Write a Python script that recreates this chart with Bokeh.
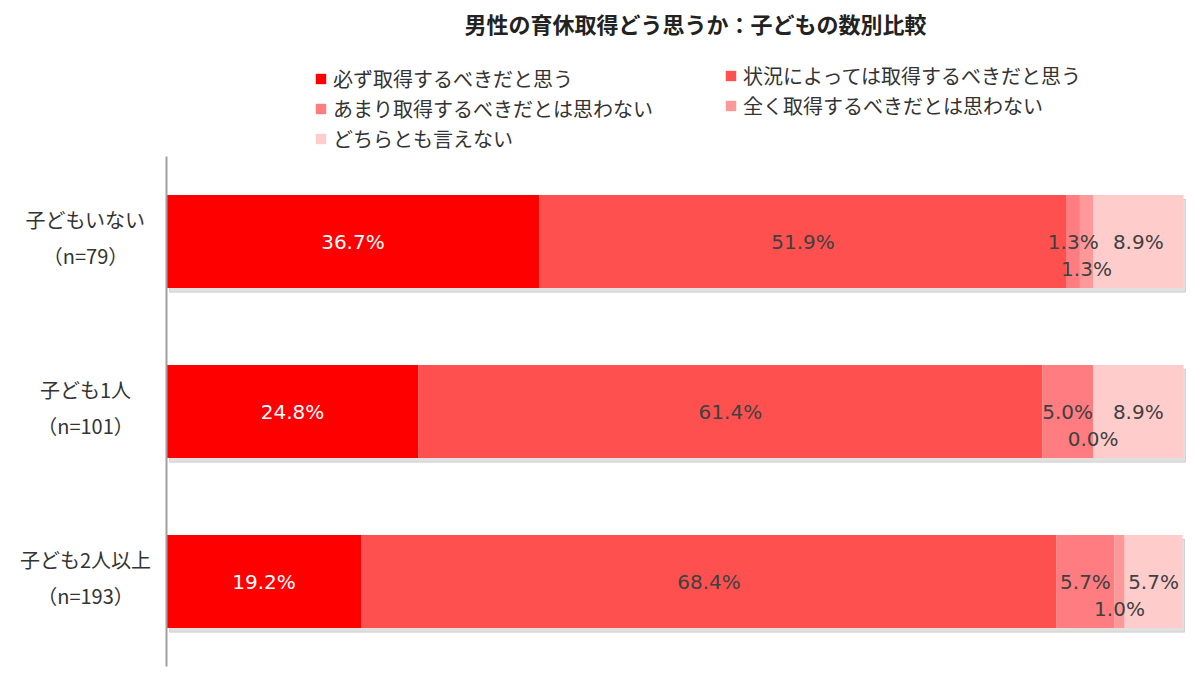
import numpy as np
from bokeh.plotting import figure
from bokeh.models import Range1d, Legend, LegendItem, ColumnDataSource
from bokeh.core.properties import value
from bokeh.embed import file_html
from bokeh.resources import INLINE

title = "男性の育休取得どう思うか：子どもの数別比較"
categories = ["子どもいない", "子ども1人", "子ども2人以上"]
sample_sizes = ["（n=79）", "（n=101）", "（n=193）"]
series_names = [
    "必ず取得するべきだと思う",
    "状況によっては取得するべきだと思う",
    "あまり取得するべきだとは思わない",
    "全く取得するべきだとは思わない",
    "どちらとも言えない",
]
must = [36.7, 24.8, 19.2]
depends = [51.9, 61.4, 68.4]
rather_not = [1.3, 5.0, 5.7]
not_at_all = [1.3, 0.0, 1.0]
undecided = [8.9, 8.9, 5.7]

colors = ["#FF0000", "#FF5050", "#FF7C80", "#FF9999", "#FFCCCC"]
label_colors = ["#FFFFFF", "#404040", "#404040", "#404040", "#404040"]
FONT = "Noto Sans CJK JP"
NUM_FONT = "DejaVu Sans"

series = [must, depends, rather_not, not_at_all, undecided]
n = len(categories)
idx = np.arange(n)

W, Hpx = 1200, 683
X0, XS = 166.0, 10.16      # pixel of 0 %, pixels per 1 %
Y0, YS = 241.0, 170.0      # pixel of first category centre, pixels per category


def xv(px):
    return (px - X0) / XS


def yv(py):
    return (py - Y0) / YS


p = figure(width=W, height=Hpx, output_backend="svg", toolbar_location=None,
           x_range=Range1d(xv(0), xv(W)), y_range=Range1d(yv(Hpx), yv(0)),
           min_border_left=0, min_border_right=0, min_border_top=0, min_border_bottom=0,
           title_location=None)
p.xaxis.visible = False
p.yaxis.visible = False
p.xgrid.visible = False
p.ygrid.visible = False
p.outline_line_color = None
p.background_fill_color = "white"
p.border_fill_color = "white"

# title
p.text(x=[xv(695)], y=[yv(22)], text=[title], text_align="center", text_baseline="middle",
       text_font=value(FONT), text_font_size="22px", text_font_style="bold", text_color="#222222")

H = 93 / YS
totals = np.sum(np.array(series), axis=0)
# soft shadow
p.hbar(y=idx + 0.025, left=0.3, right=totals + 0.2, height=H, color="#000000", alpha=0.12)

renderers = []
label_sources = []
left = np.zeros(n)
for k, vals in enumerate(series):
    vals = np.array(vals)
    right = left + vals
    r = p.hbar(y=idx, left=left, right=right, height=H, fill_color=colors[k], line_color=None)
    renderers.append(r)
    centers = left + vals / 2
    dy = 0.16 if k == 3 else 0.0
    label_sources.append(ColumnDataSource(dict(x=centers, y=idx + dy, t=[f"{v:.1f}%" for v in vals])))
    left = right

for k, src in enumerate(label_sources):
    p.text(x="x", y="y", text="t", source=src, text_align="center", text_baseline="middle",
           text_font=value(NUM_FONT), text_font_size="20px", text_color=label_colors[k])

# category axis line
p.segment(x0=[0], y0=[-0.5], x1=[0], y1=[n - 0.5], line_color="#A0A0A0", line_width=2)

# category labels
p.text(x=[xv(85)] * n, y=idx - 0.13, text=categories, text_align="center", text_baseline="middle",
       text_font=value(FONT), text_font_size="20px", text_color="#333333")
p.text(x=[xv(85)] * n, y=idx + 0.085, text=sample_sizes, text_align="center", text_baseline="middle",
       text_font=value(FONT), text_font_size="20px", text_color="#333333")

common = dict(label_text_font=FONT, label_text_font_size="20px", label_text_color="#333333",
              glyph_width=13, glyph_height=13, label_standoff=6, spacing=1,
              label_height=24, padding=0, margin=0, border_line_color=None,
              background_fill_alpha=0, orientation="vertical")
items_left = [LegendItem(label=series_names[k], renderers=[renderers[k]]) for k in (0, 2, 4)]
items_right = [LegendItem(label=series_names[k], renderers=[renderers[k]]) for k in (1, 3)]
leg1 = Legend(items=items_left, location=(314, Hpx - 153), **common)
leg2 = Legend(items=items_right, location=(724, Hpx - 120), **common)
p.add_layout(leg1, "center")
p.add_layout(leg2, "center")

open("out.html", "w").write(file_html(p, INLINE))
